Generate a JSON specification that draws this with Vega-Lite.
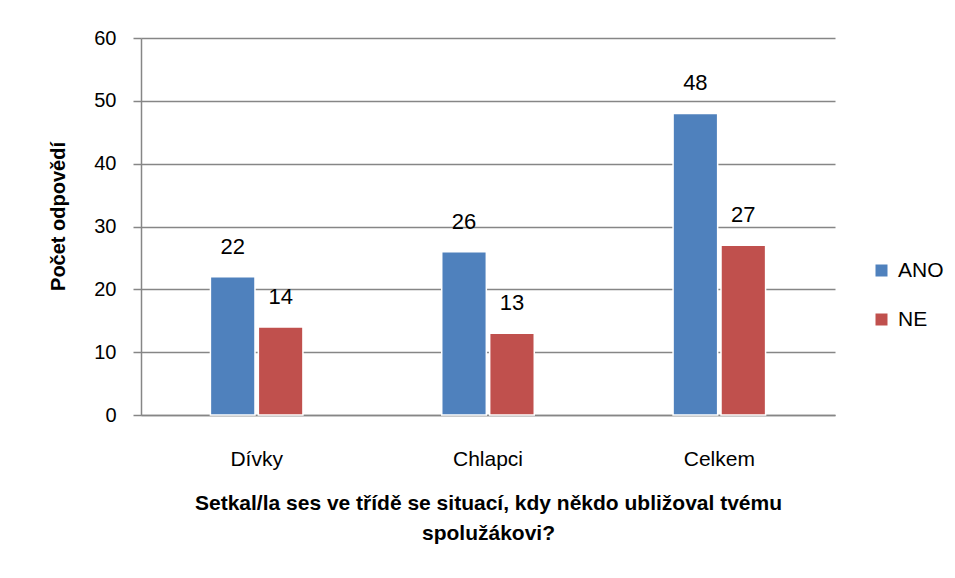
{
  "$schema": "https://vega.github.io/schema/vega-lite/v6.json",
  "width": 694,
  "height": 377,
  "autosize": {"type": "none"},
  "padding": {"left": 141, "top": 38, "right": 120, "bottom": 163},
  "background": "white",
  "config": {
    "font": "Liberation Sans",
    "view": {"stroke": null}
  },
  "data": {
    "values": [
      {"kategorie": "Dívky", "odpoved": "ANO", "pocet": 22},
      {"kategorie": "Dívky", "odpoved": "NE", "pocet": 14},
      {"kategorie": "Chlapci", "odpoved": "ANO", "pocet": 26},
      {"kategorie": "Chlapci", "odpoved": "NE", "pocet": 13},
      {"kategorie": "Celkem", "odpoved": "ANO", "pocet": 48},
      {"kategorie": "Celkem", "odpoved": "NE", "pocet": 27}
    ]
  },
  "encoding": {
    "x": {
      "field": "kategorie",
      "type": "nominal",
      "sort": ["Dívky", "Chlapci", "Celkem"],
      "scale": {"paddingInner": 0.6, "paddingOuter": 0.3},
      "axis": {
        "title": ["Setkal/la  ses ve třídě se situací, kdy někdo ubližoval tvému", "spolužákovi?"],
        "titleFontSize": 21,
        "titleFontWeight": "bold",
        "titleColor": "black",
        "titleLineHeight": 30,
        "titleBaseline": "top",
        "titleY": 77,
        "labelAngle": 0,
        "labelFontSize": 21,
        "labelColor": "black",
        "labelPadding": 33,
        "ticks": false,
        "domainColor": "#868686",
        "domainWidth": 1.5
      }
    },
    "xOffset": {
      "field": "odpoved",
      "type": "nominal",
      "scale": {"paddingInner": 0.07}
    },
    "y": {
      "field": "pocet",
      "type": "quantitative",
      "scale": {"domain": [0, 60], "nice": false},
      "axis": {
        "values": [0, 10, 20, 30, 40, 50, 60],
        "title": "Počet odpovědí",
        "titleFontSize": 20,
        "titleFontWeight": "bold",
        "titleColor": "black",
        "titleX": -83,
        "titleY": 178,
        "titleBaseline": "middle",
        "labelFontSize": 20,
        "labelColor": "black",
        "labelPadding": 17,
        "tickSize": 8,
        "tickColor": "#868686",
        "tickWidth": 1.5,
        "domainColor": "#868686",
        "domainWidth": 1.5,
        "gridColor": "#868686",
        "gridWidth": 1.5
      }
    }
  },
  "layer": [
    {
      "mark": {"type": "bar", "stroke": "white", "strokeWidth": 1.5},
      "encoding": {
        "color": {
          "field": "odpoved",
          "type": "nominal",
          "scale": {"domain": ["ANO", "NE"], "range": ["#4F81BD", "#C0504D"]},
          "legend": {
            "title": null,
            "orient": "none",
            "legendX": 730,
            "legendY": 222,
            "symbolType": "square",
            "symbolSize": 144,
            "symbolStrokeWidth": 0,
            "labelFontSize": 21,
            "labelColor": "black",
            "labelOffset": 6,
            "rowPadding": 27
          }
        }
      }
    },
    {
      "mark": {"type": "text", "baseline": "bottom", "dy": -18, "fontSize": 22, "color": "black"},
      "encoding": {
        "text": {"field": "pocet", "type": "quantitative"}
      }
    }
  ]
}
